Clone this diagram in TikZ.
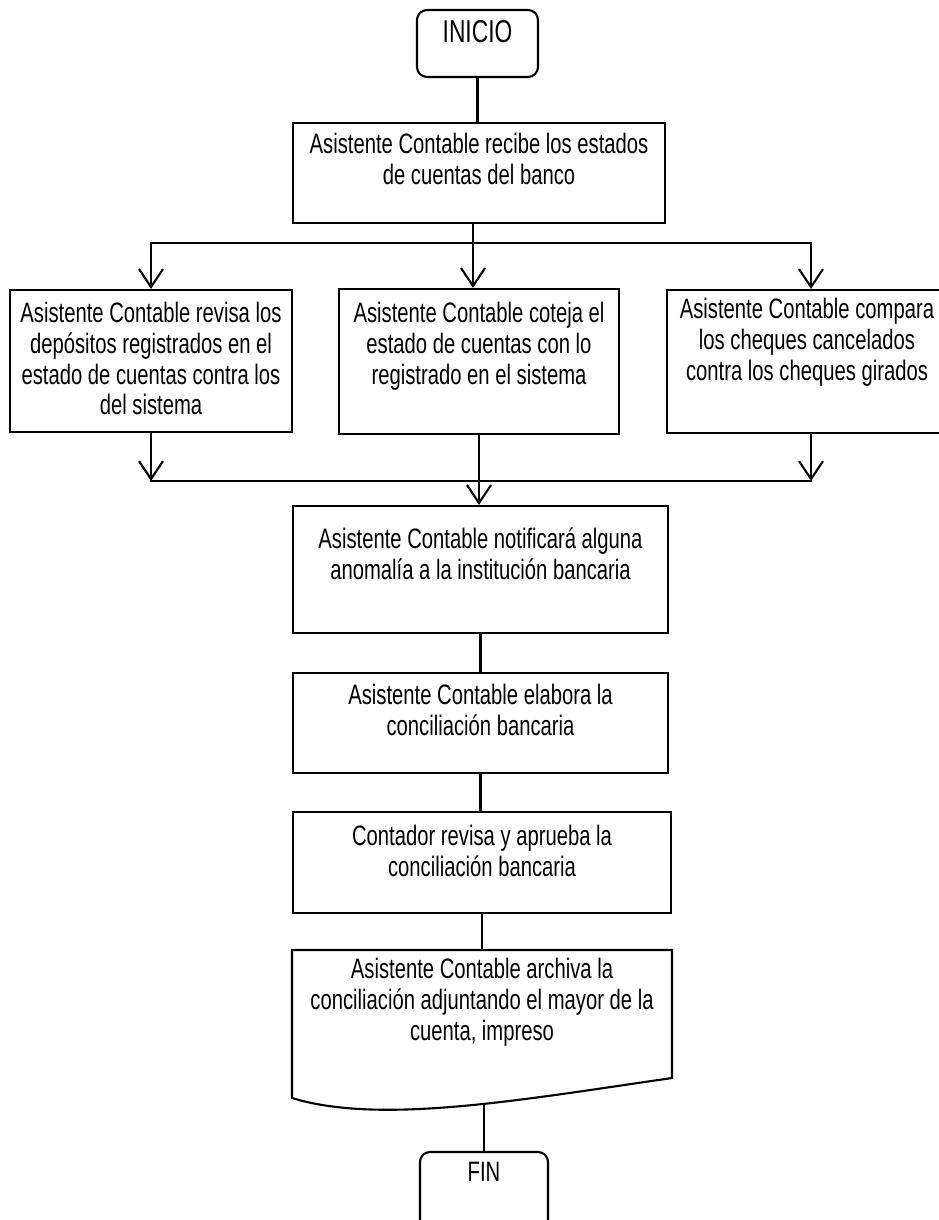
\documentclass[tikz,border=0pt]{standalone}
\usepackage{fontspec}
\setmainfont{Liberation Sans}[FakeStretch=0.72]
\usetikzlibrary{calc}
\usetikzlibrary{arrows.meta}
\tikzset{>={Straight Barb[length=3.6mm,width=4.8mm]}}
\tikzstyle{flow line}=[line width=1.2pt,draw=black,line cap=rect]
\tikzstyle{proc}=[flow line,rectangle,inner sep=0pt]
\tikzstyle{term}=[proc,rounded corners=0.2cm]
\tikzstyle{proc text}=[align=center,inner sep=0pt,font=\fontsize{16}{17.6}\selectfont]
\tikzset{
	box size/.style 2 args={minimum width=#1*0.02cm,minimum height=#2*0.02cm},
}

\begin{document}
\begin{tikzpicture}[x=0.02cm,y=-0.02cm]
	\useasboundingbox (0,0) rectangle (939,1220);
	\clip (0,0) rectangle (939,1220); % page of the chart

	% Start
	\node[term,box size={121}{67}] (inicio) at (477.5,43.5) {};
	\node[proc text,font=\fontsize{18}{20}\selectfont] (inicio-t) at (477.5,32) {INICIO};

	% Boxes
	\node[proc,box size={372}{100}] (recibe) at (479,173) {};
	\node[proc text] (recibe-t) at (479,159) {Asistente Contable recibe los estados\\de cuentas del banco};

	\node[proc,box size={282}{142}] (revisa) at (151,361) {};
	\node[proc text] (revisa-t) at (151,358.5) {Asistente Contable revisa los\\dep\'ositos registrados en el\\estado de cuentas contra los\\del sistema};

	\node[proc,box size={280}{145}] (coteja) at (479,361.5) {};
	\node[proc text] (coteja-t) at (479,346) {Asistente Contable coteja el\\estado de cuentas con lo\\registrado en el sistema};

	\node[proc,box size={288}{143}] (compara) at (811,361.5) {};
	\node[proc text] (compara-t) at (807,342.5) {Asistente Contable compara\\los cheques cancelados\\contra los cheques girados};

	\node[proc,box size={375}{127}] (notifica) at (480.5,569.5) {};
	\node[proc text] (notifica-t) at (480.5,554) {Asistente Contable notificar\'a alguna\\anomal\'ia a la instituci\'on bancaria};

	\node[proc,box size={375}{100}] (elabora) at (480.5,723) {};
	\node[proc text] (elabora-t) at (480.5,710) {Asistente Contable elabora la\\conciliaci\'on bancaria};

	\node[proc,box size={378}{101}] (aprueba) at (482,862.5) {};
	\node[proc text] (aprueba-t) at (482,851) {Contador revisa y aprueba la\\conciliaci\'on bancaria};

	% Document shape
	\node[box size={380}{150},anchor=north,inner sep=0pt] (archiva) at (482,950) {};
	\draw[flow line] (292,950) -- (672,950) -- (672,1078) .. controls (520,1100) and (380,1125) .. (292,1098) -- cycle;
	\coordinate (archiva-b) at (484,1104);
	\node[proc text] (archiva-t) at (482,1002) {Asistente Contable archiva la\\conciliaci\'on adjuntando el mayor de la\\cuenta, impreso};

	% End
	\node[term,box size={128}{80}] (fin) at (484,1192) {};
	\node[proc text] (fin-t) at (484,1172) {FIN};

	% Connectors
	\coordinate (split) at (473,243);
	\coordinate (merge) at (479,481);
	\draw[flow line] (inicio.south) -- (inicio.south |- recibe.north);
	\draw[flow line] (recibe.south -| split) -- (split);
	\draw[flow line,->] (split) -- (split |- coteja.north);
	\draw[flow line] (split -| revisa.north) -- (split -| compara.north);
	\draw[flow line,->] (split -| revisa.north) -- (revisa.north);
	\draw[flow line,->] (split -| compara.north) -- (compara.north);
	\draw[flow line,->] (revisa.south) -- (merge -| revisa.south);
	\draw[flow line,->] (compara.south) -- (merge -| compara.south);
	\draw[flow line] (merge -| revisa.south) -- (merge -| compara.south);
	\draw[flow line,->] (coteja.south) -- (coteja.south |- notifica.north);
	\draw[flow line] (notifica.south) -- (notifica.south |- elabora.north);
	\draw[flow line] (elabora.south) -- (elabora.south |- aprueba.north);
	\draw[flow line] (aprueba.south) -- (archiva.north);
	\draw[flow line] (archiva-b) -- (archiva-b |- fin.north);
\end{tikzpicture}
\end{document}
